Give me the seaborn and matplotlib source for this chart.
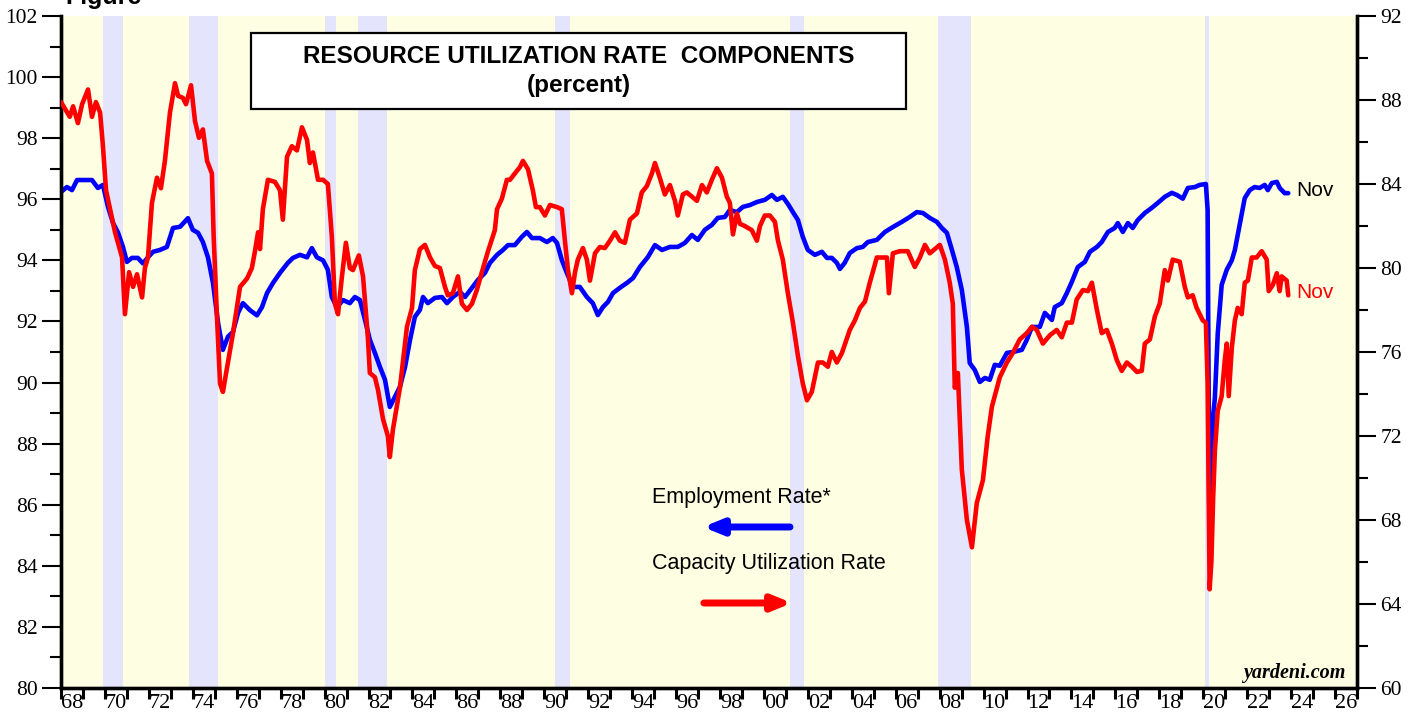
import matplotlib
matplotlib.use("Agg")
import matplotlib.pyplot as plt
from matplotlib.patches import Rectangle
from matplotlib.ticker import FixedLocator, NullFormatter, FixedFormatter
import seaborn as sns
import pandas as pd

# ---------------- data ----------------
emp_years = [1968.0, 1968.27, 1968.5, 1968.73, 1969.41, 1969.68, 1969.91, 1970.14, 1970.37, 1970.6,
             1970.82, 1971.0, 1971.23, 1971.5, 1971.73, 1971.96, 1972.19, 1972.5, 1972.82, 1973.1,
             1973.42, 1973.78, 1974.0, 1974.24, 1974.46, 1974.69, 1974.92, 1975.15, 1975.37, 1975.6,
             1975.83, 1976.06, 1976.28, 1976.6, 1976.92, 1977.15, 1977.38, 1977.65, 1977.97, 1978.33,
             1978.56, 1978.88, 1979.2, 1979.42, 1979.65, 1979.93, 1980.15, 1980.33, 1980.56, 1980.84,
             1981.15, 1981.38, 1981.61, 1981.84, 1982.06, 1982.29, 1982.52, 1982.75, 1982.97, 1983.2,
             1983.43, 1983.66, 1983.89, 1984.11, 1984.34, 1984.48, 1984.7, 1985.02, 1985.34, 1985.57,
             1985.84, 1986.16, 1986.39, 1986.71, 1986.98, 1987.3, 1987.53, 1987.85, 1988.12, 1988.35,
             1988.66, 1988.98, 1989.21, 1989.44, 1989.8, 1990.12, 1990.39, 1990.58, 1990.8, 1991.03,
             1991.3, 1991.62, 1991.94, 1992.21, 1992.44, 1992.67, 1992.9, 1993.13, 1993.44, 1993.76,
             1994.04, 1994.35, 1994.72, 1995.04, 1995.36, 1995.72, 1996.08, 1996.4, 1996.72, 1996.99,
             1997.31, 1997.63, 1997.9, 1998.22, 1998.45, 1998.77, 1999.04, 1999.36, 1999.68, 2000.04,
             2000.36, 2000.59, 2000.86, 2001.09, 2001.32, 2001.55, 2001.77, 2002.0, 2002.32, 2002.64,
             2002.87, 2003.09, 2003.32, 2003.46, 2003.68, 2003.91, 2004.23, 2004.5, 2004.73, 2005.14,
             2005.51, 2005.87, 2006.28, 2006.64, 2006.96, 2007.24, 2007.55, 2007.87, 2008.1, 2008.33,
             2008.56, 2008.78, 2009.01, 2009.24, 2009.37, 2009.6, 2009.83, 2010.06, 2010.28, 2010.51,
             2010.74, 2011.06, 2011.33, 2011.74, 2011.97, 2012.2, 2012.56, 2012.79, 2013.11, 2013.24,
             2013.56, 2013.79, 2014.02, 2014.29, 2014.61, 2014.84, 2015.16, 2015.38, 2015.66, 2015.97,
             2016.11, 2016.34, 2016.57, 2016.79, 2017.02, 2017.34, 2017.66, 2017.93, 2018.25, 2018.57,
             2018.8, 2019.07, 2019.3, 2019.62, 2019.84, 2020.12, 2020.2, 2020.28, 2020.37, 2020.45,
             2020.53, 2020.66, 2020.84, 2021.07, 2021.3, 2021.44, 2021.57, 2021.75, 2021.89, 2022.12,
             2022.34, 2022.57, 2022.8, 2022.94, 2023.12, 2023.35, 2023.48, 2023.71, 2023.87]
emp_rate = [96.24, 96.4, 96.3, 96.63, 96.63, 96.37, 96.47, 95.75, 95.22, 94.9,
            94.44, 93.95, 94.08, 94.08, 93.9, 94.1, 94.28, 94.34, 94.44, 95.06,
            95.1, 95.38, 95.0, 94.9, 94.6, 94.1, 93.26, 91.95, 91.07, 91.5,
            91.66, 92.28, 92.6, 92.37, 92.2, 92.47, 92.93, 93.26, 93.59, 93.92,
            94.08, 94.18, 94.1, 94.4, 94.1, 94.0, 93.69, 92.8, 92.47, 92.7,
            92.6, 92.8, 92.7, 92.05, 91.4, 90.97, 90.51, 90.09, 89.2, 89.53,
            89.86, 90.5, 91.4, 92.15, 92.38, 92.8, 92.6, 92.77, 92.8, 92.6,
            92.8, 92.97, 92.8, 93.1, 93.36, 93.59, 93.92, 94.18, 94.34, 94.5,
            94.5, 94.77, 94.93, 94.73, 94.73, 94.6, 94.73, 94.57, 94.01, 93.59,
            93.13, 93.13, 92.8, 92.6, 92.21, 92.47, 92.64, 92.93, 93.1, 93.26,
            93.42, 93.78, 94.11, 94.5, 94.34, 94.44, 94.44, 94.57, 94.83, 94.67,
            95.0, 95.16, 95.39, 95.42, 95.65, 95.58, 95.75, 95.81, 95.91, 95.98,
            96.14, 95.98, 96.08, 95.85, 95.58, 95.32, 94.77, 94.34, 94.18, 94.28,
            94.08, 94.08, 93.92, 93.72, 93.92, 94.24, 94.4, 94.44, 94.6, 94.67,
            94.93, 95.09, 95.26, 95.42, 95.58, 95.55, 95.39, 95.26, 95.06, 94.9,
            94.34, 93.78, 93.03, 91.82, 90.64, 90.41, 90.02, 90.15, 90.09, 90.58,
            90.55, 90.97, 91.0, 91.07, 91.4, 91.82, 91.82, 92.28, 92.05, 92.47,
            92.6, 92.93, 93.3, 93.78, 93.95, 94.28, 94.44, 94.6, 94.93, 95.06,
            95.22, 94.93, 95.22, 95.06, 95.32, 95.55, 95.72, 95.88, 96.08, 96.21,
            96.14, 96.02, 96.37, 96.4, 96.47, 96.5, 95.65, 85.3, 86.7, 88.9,
            89.5, 91.6, 93.2, 93.69, 94.0, 94.34, 94.83, 95.49, 96.04, 96.3,
            96.4, 96.37, 96.47, 96.3, 96.53, 96.57, 96.37, 96.2, 96.2]

cu_years = [1968.0, 1968.4, 1968.55, 1968.77, 1968.96, 1969.23, 1969.41, 1969.59, 1969.78, 1969.91,
            1970.05, 1970.46, 1970.78, 1970.91, 1971.1, 1971.28, 1971.46, 1971.69, 1971.82, 1971.96,
            1972.14, 1972.37, 1972.55, 1972.73, 1972.96, 1973.19, 1973.33, 1973.55, 1973.69, 1973.92,
            1974.1, 1974.28, 1974.46, 1974.65, 1974.87, 1974.95, 1975.1, 1975.24, 1975.37, 1975.6,
            1975.83, 1976.15, 1976.47, 1976.69, 1976.83, 1976.97, 1977.06, 1977.19, 1977.42, 1977.74,
            1977.97, 1978.1, 1978.29, 1978.51, 1978.74, 1978.97, 1979.2, 1979.33, 1979.47, 1979.7,
            1979.93, 1980.15, 1980.33, 1980.47, 1980.61, 1980.79, 1980.97, 1981.15, 1981.29, 1981.56,
            1981.75, 1981.97, 1982.06, 1982.29, 1982.43, 1982.66, 1982.88, 1982.97, 1983.11, 1983.43,
            1983.75, 1983.98, 1984.11, 1984.34, 1984.57, 1984.8, 1985.02, 1985.25, 1985.48, 1985.61,
            1985.84, 1986.07, 1986.25, 1986.48, 1986.71, 1986.93, 1987.16, 1987.44, 1987.75, 1987.85,
            1988.07, 1988.3, 1988.44, 1988.66, 1988.89, 1989.03, 1989.26, 1989.48, 1989.62, 1989.8,
            1990.03, 1990.26, 1990.58, 1990.8, 1990.94, 1991.08, 1991.26, 1991.4, 1991.53, 1991.76,
            1991.94, 1992.08, 1992.31, 1992.53, 1992.76, 1992.99, 1993.22, 1993.44, 1993.67, 1993.9,
            1994.22, 1994.44, 1994.67, 1994.9, 1995.04, 1995.26, 1995.49, 1995.72, 1995.95, 1996.08,
            1996.31, 1996.49, 1996.72, 1996.95, 1997.18, 1997.4, 1997.63, 1997.86, 1998.09, 1998.31,
            1998.45, 1998.59, 1998.77, 1998.91, 1999.13, 1999.45, 1999.68, 1999.82, 2000.04, 2000.27,
            2000.5, 2000.64, 2000.86, 2001.09, 2001.32, 2001.55, 2001.77, 2001.96, 2002.18, 2002.46,
            2002.68, 2002.91, 2003.09, 2003.32, 2003.55, 2003.91, 2004.14, 2004.37, 2004.6, 2004.82,
            2005.14, 2005.41, 2005.6, 2005.69, 2005.87, 2006.19, 2006.55, 2006.87, 2007.1, 2007.33,
            2007.55, 2007.78, 2008.01, 2008.24, 2008.46, 2008.6, 2008.69, 2008.83, 2009.01, 2009.24,
            2009.47, 2009.69, 2009.97, 2010.19, 2010.38, 2010.74, 2011.06, 2011.33, 2011.65, 2011.97,
            2012.2, 2012.42, 2012.7, 2013.02, 2013.33, 2013.56, 2013.79, 2014.02, 2014.24, 2014.52,
            2014.75, 2014.93, 2015.16, 2015.38, 2015.61, 2015.84, 2016.07, 2016.29, 2016.52, 2016.75,
            2016.98, 2017.2, 2017.34, 2017.57, 2017.8, 2018.02, 2018.25, 2018.39, 2018.61, 2018.93,
            2019.16, 2019.3, 2019.52, 2019.7, 2019.84, 2019.98, 2020.12, 2020.2, 2020.29, 2020.37,
            2020.45, 2020.53, 2020.66, 2020.84, 2020.98, 2021.07, 2021.16, 2021.3, 2021.44, 2021.57,
            2021.75, 2021.89, 2022.03, 2022.21, 2022.43, 2022.66, 2022.89, 2022.98, 2023.17, 2023.35,
            2023.48, 2023.57, 2023.8, 2023.87]
cu_rate = [87.9, 87.2, 87.7, 86.9, 87.8, 88.5, 87.2, 87.9, 87.4, 85.8,
           83.7, 81.7, 80.5, 77.8, 79.8, 79.1, 79.7, 78.6, 80.0, 80.5,
           83.1, 84.3, 83.8, 85.1, 87.4, 88.8, 88.2, 88.1, 87.8, 88.7,
           87.0, 86.2, 86.6, 85.1, 84.5, 81.5, 77.7, 74.5, 74.1, 75.5,
           76.9, 79.1, 79.5, 80.0, 80.8, 81.7, 80.9, 82.8, 84.2, 84.1,
           83.7, 82.3, 85.3, 85.8, 85.6, 86.7, 86.1, 85.0, 85.5, 84.2,
           84.2, 84.0, 81.5, 78.3, 77.8, 79.6, 81.2, 80.0, 79.9, 80.6,
           79.6, 76.7, 75.0, 74.8, 74.2, 72.8, 72.0, 71.0, 72.3, 74.3,
           77.2, 78.1, 79.9, 80.9, 81.1, 80.5, 80.1, 80.0, 79.1, 78.7,
           78.8, 79.6, 78.3, 78.0, 78.3, 78.95, 79.8, 80.8, 81.8, 82.8,
           83.3, 84.2, 84.2, 84.5, 84.8, 85.1, 84.7, 83.7, 82.9, 82.9,
           82.5, 83.0, 82.9, 82.8, 81.3, 79.9, 78.8, 79.8, 80.4, 80.95,
           80.4, 79.4, 80.7, 81.0, 80.95, 81.3, 81.7, 81.3, 81.2, 82.3,
           82.6, 83.6, 83.9, 84.5, 85.0, 84.3, 83.5, 83.95, 83.2, 82.5,
           83.5, 83.6, 83.4, 83.2, 83.95, 83.6, 84.2, 84.75, 84.3, 83.4,
           83.1, 81.6, 82.6, 82.1, 82.0, 81.8, 81.3, 82.0, 82.5, 82.5,
           82.2, 81.3, 80.4, 78.8, 77.4, 75.8, 74.5, 73.7, 74.1, 75.5,
           75.5, 75.3, 76.0, 75.5, 75.95, 77.05, 77.5, 78.1, 78.4, 79.3,
           80.5, 80.5, 80.5, 78.8, 80.7, 80.8, 80.8, 80.05, 80.5, 81.1,
           80.7, 80.9, 81.1, 80.4, 79.3, 78.3, 74.3, 75.0, 70.4, 68.0,
           66.7, 68.8, 69.9, 72.0, 73.4, 74.8, 75.5, 75.95, 76.6, 76.9,
           77.2, 77.05, 76.4, 76.8, 77.05, 76.7, 77.4, 77.4, 78.5, 78.95,
           78.9, 79.3, 78.0, 76.9, 77.05, 76.4, 75.6, 75.1, 75.5, 75.3,
           75.05, 75.1, 76.4, 76.6, 77.7, 78.3, 79.9, 79.4, 80.4, 80.3,
           79.1, 78.6, 78.7, 78.1, 77.8, 77.5, 77.4, 74.5, 64.7, 66.0,
           69.0, 71.3, 73.2, 73.9, 75.6, 76.4, 73.9, 76.2, 77.5, 78.1,
           77.8, 79.3, 79.4, 80.5, 80.5, 80.8, 80.4, 78.9, 79.2, 79.75,
           78.9, 79.6, 79.4, 78.7]

recession_start = [1969.92, 1973.83, 1980.0, 1981.5, 1990.5, 2001.17, 2007.92, 2020.08]
recession_end = [1970.83, 1975.17, 1980.5, 1982.83, 1991.17, 2001.83, 2009.42, 2020.25]

year_labels = ["68", "70", "72", "74", "76", "78", "80", "82", "84", "86", "88", "90", "92", "94",
               "96", "98", "00", "02", "04", "06", "08", "10", "12", "14", "16", "18", "20", "22",
               "24", "26"]
left_ticks = [80, 82, 84, 86, 88, 90, 92, 94, 96, 98, 100, 102]
right_ticks = [60, 64, 68, 72, 76, 80, 84, 88, 92]

# ---------------- style ----------------
sns.set_style("ticks")
plt.rcParams["font.family"] = ["Liberation Serif", "DejaVu Serif"]
plt.rcParams["text.color"] = "black"

emp_df = pd.DataFrame({"year": emp_years, "rate": emp_rate})
cu_df = pd.DataFrame({"year": cu_years, "rate": cu_rate})

fig = plt.figure(figsize=(14.17, 7.19), dpi=100)
ax = fig.add_axes([61 / 1417, 1 - 688 / 719, 1296 / 1417, 672 / 719])
ax.set_facecolor("#FEFEE3")

for s, e in zip(recession_start, recession_end):
    ax.axvspan(s, e, color="#E4E4FC", lw=0, zorder=0.5)

sns.lineplot(data=emp_df, x="year", y="rate", ax=ax, color="#0000FF", lw=3.3,
             estimator=None, sort=False, zorder=3)

ax2 = ax.twinx()
sns.lineplot(data=cu_df, x="year", y="rate", ax=ax2, color="#FF0000", lw=3.3,
             estimator=None, sort=False, zorder=3)

ax.set_xlim(1968, 2027)
ax.set_ylim(80, 102)
ax2.set_ylim(60, 92)
for a in (ax, ax2):
    a.set_xlabel("")
    a.set_ylabel("")

# spines
for a in (ax, ax2):
    a.spines["top"].set_visible(False)
    for side in ("left", "right", "bottom"):
        a.spines[side].set_linewidth(2.4)
        a.spines[side].set_color("black")

# x ticks: a tick every year, labels centred mid-year
ax.xaxis.set_major_locator(FixedLocator(list(range(1968, 2028))))
ax.xaxis.set_major_formatter(NullFormatter())
ax.xaxis.set_minor_locator(FixedLocator([1968.5 + 2 * i for i in range(len(year_labels))]))
ax.xaxis.set_minor_formatter(FixedFormatter(year_labels))
ax.tick_params(axis="x", which="major", direction="out", length=8, width=2.2, color="black")
ax.tick_params(axis="x", which="minor", length=0, pad=4, labelsize=16, labelcolor="black")

# left y ticks
ax.yaxis.set_major_locator(FixedLocator(left_ticks))
ax.yaxis.set_minor_locator(FixedLocator(list(range(81, 102, 2))))
ax.tick_params(axis="y", which="major", direction="out", length=14, width=1.5, labelsize=15.5,
               pad=3, color="black", labelcolor="black")
ax.tick_params(axis="y", which="minor", direction="out", length=8, width=1.5, color="black")

# right y ticks
ax2.yaxis.set_major_locator(FixedLocator(right_ticks))
ax2.yaxis.set_minor_locator(FixedLocator(list(range(62, 92, 4))))
ax2.tick_params(axis="y", which="major", direction="out", length=14, width=1.5, labelsize=15.5,
                pad=3, color="black", labelcolor="black")
ax2.tick_params(axis="y", which="minor", direction="out", length=8, width=1.5, color="black")

# title box
ax2.add_patch(Rectangle((0.1466, 0.8616), 0.5054, 0.1131, transform=ax2.transAxes,
                        facecolor="white", edgecolor="black", lw=1.6, zorder=10))
sans = ["Liberation Sans", "DejaVu Sans"]
ax2.text(0.3997, 0.939, "RESOURCE UTILIZATION RATE  COMPONENTS", transform=ax2.transAxes,
         ha="center", va="center", fontsize=17.5, fontweight="bold", family=sans,
         color="black", zorder=11)
ax2.text(0.3997, 0.897, "(percent)", transform=ax2.transAxes, ha="center", va="center",
         fontsize=17.5, fontweight="bold", family=sans, color="black", zorder=11)

# legend texts and arrows
ax2.text(0.456, 0.284, "Employment Rate*", transform=ax2.transAxes, ha="left", va="center",
         fontsize=15.5, family=sans, color="black", zorder=11)
ax2.text(0.456, 0.186, "Capacity Utilization Rate", transform=ax2.transAxes, ha="left",
         va="center", fontsize=15.5, family=sans, color="black", zorder=11)
ax2.annotate("", xy=(0.4954, 0.2396), xytext=(0.5625, 0.2396), xycoords="axes fraction",
             arrowprops=dict(arrowstyle="-|>,head_length=1.1,head_width=0.45", lw=5,
                             color="#0000FF", shrinkA=0, shrinkB=0), zorder=11)
ax2.annotate("", xy=(0.564, 0.1265), xytext=(0.496, 0.1265), xycoords="axes fraction",
             arrowprops=dict(arrowstyle="-|>,head_length=1.1,head_width=0.45", lw=5,
                             color="#FF0000", shrinkA=0, shrinkB=0), zorder=11)

# end labels
ax2.text(0.953, 0.741, "Nov", transform=ax2.transAxes, ha="left", va="center",
         fontsize=15, family=sans, color="black", zorder=11)
ax2.text(0.953, 0.588, "Nov", transform=ax2.transAxes, ha="left", va="center",
         fontsize=15, family=sans, color="#FF0000", zorder=11)

# source
ax2.text(0.9907, 0.0223, "yardeni.com", transform=ax2.transAxes, ha="right", va="center",
         fontsize=14.5, fontweight="bold", fontstyle="italic",
         family=["Liberation Serif", "DejaVu Serif"], color="black", zorder=11)

# figure caption cut at top edge, as in the reference
fig.text(0.046, 1 - 4 / 719, "Figure", ha="left", va="baseline", fontsize=18,
         fontweight="bold", family=sans, color="black")

fig.savefig("out.png", dpi=100)
